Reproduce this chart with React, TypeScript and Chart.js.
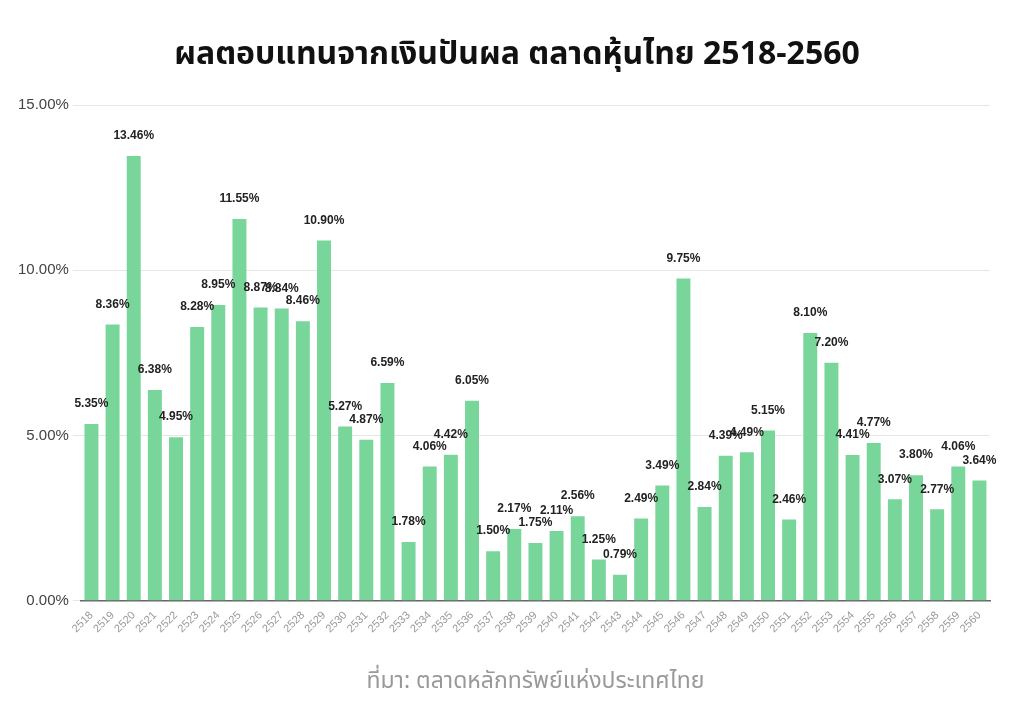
import React, { useEffect, useRef } from "react";
import { Chart, registerables } from "chart.js";

Chart.register(...registerables);

const years: string[] = [
  "2518", "2519", "2520", "2521", "2522", "2523", "2524", "2525", "2526", "2527",
  "2528", "2529", "2530", "2531", "2532", "2533", "2534", "2535", "2536", "2537",
  "2538", "2539", "2540", "2541", "2542", "2543", "2544", "2545", "2546", "2547",
  "2548", "2549", "2550", "2551", "2552", "2553", "2554", "2555", "2556", "2557",
  "2558", "2559", "2560",
];

const dividendYield: number[] = [
  5.35, 8.36, 13.46, 6.38, 4.95, 8.28, 8.95, 11.55, 8.87, 8.84,
  8.46, 10.9, 5.27, 4.87, 6.59, 1.78, 4.06, 4.42, 6.05, 1.5,
  2.17, 1.75, 2.11, 2.56, 1.25, 0.79, 2.49, 3.49, 9.75, 2.84,
  4.39, 4.49, 5.15, 2.46, 8.1, 7.2, 4.41, 4.77, 3.07, 3.8,
  2.77, 4.06, 3.64,
];

const yTicks: number[] = [0, 5, 10, 15];

const titleText = "ผลตอบแทนจากเงินปันผล ตลาดหุ้นไทย 2518-2560";
const sourceText = "ที่มา: ตลาดหลักทรัพย์แห่งประเทศไทย";

const THAI_FONT = "'Noto Sans Thai', 'Noto Sans', 'DejaVu Sans', sans-serif";
const LABEL_FONT = "'Liberation Sans', Arial, sans-serif";

const valueLabels = {
  id: "valueLabels",
  afterDatasetsDraw(chart: any) {
    const ctx = chart.ctx;
    const meta = chart.getDatasetMeta(0);
    ctx.save();
    ctx.font = `bold 12px ${LABEL_FONT}`;
    ctx.fillStyle = "#222";
    ctx.textAlign = "center";
    ctx.textBaseline = "middle";
    meta.data.forEach((bar: any, i: number) => {
      const v = dividendYield[i];
      ctx.fillText(v.toFixed(2) + "%", bar.x, bar.y - 20);
    });
    ctx.restore();
  },
};

export default function App() {
  const canvasRef = useRef<HTMLCanvasElement | null>(null);

  useEffect(() => {
    if (!canvasRef.current) return;
    const chart = new Chart(canvasRef.current, {
      type: "bar",
      data: {
        labels: years,
        datasets: [
          {
            data: dividendYield,
            backgroundColor: "#78d69b",
            borderWidth: 0,
            categoryPercentage: 1,
            barPercentage: 0.66,
          },
        ],
      },
      options: {
        animation: false,
        responsive: true,
        maintainAspectRatio: false,
        layout: { padding: { left: 14, right: 34, top: 105, bottom: 27 } },
        plugins: {
          legend: { display: false },
          tooltip: { enabled: false },
          title: { display: false },
        },
        scales: {
          x: {
            grid: { display: false },
            border: { color: "#666", width: 1.5 },
            ticks: {
              color: "#999",
              font: { family: LABEL_FONT, size: 11 },
              maxRotation: 45,
              minRotation: 45,
              autoSkip: false,
              padding: 0,
            },
            title: {
              display: true,
              text: sourceText,
              color: "#999",
              font: { family: THAI_FONT, size: 23 },
              padding: { top: 34 },
            },
          },
          y: {
            min: 0,
            max: 15,
            afterBuildTicks: (axis: any) => {
              axis.ticks = yTicks.map((v) => ({ value: v }));
            },
            grid: { color: "#e6e6e6", lineWidth: 1 },
            border: { display: false },
            ticks: {
              color: "#444",
              font: { family: LABEL_FONT, size: 15 },
              padding: 4,
              callback: (v: any) => Number(v).toFixed(2) + "%",
            },
          },
        },
      },
      plugins: [valueLabels],
    });
    return () => chart.destroy();
  }, []);

  return (
    <div style={{ position: "absolute", left: 0, top: 0, width: 1024, height: 728, background: "#fff" }}>
      <div
        style={{
          position: "absolute",
          left: 5,
          top: 34,
          width: 1024,
          height: 40,
          lineHeight: "40px",
          textAlign: "center",
          fontFamily: THAI_FONT,
          fontSize: 32,
          fontWeight: "bold",
          color: "#111",
          whiteSpace: "nowrap",
        }}
      >
        {titleText}
      </div>
      <canvas ref={canvasRef} />
    </div>
  );
}
